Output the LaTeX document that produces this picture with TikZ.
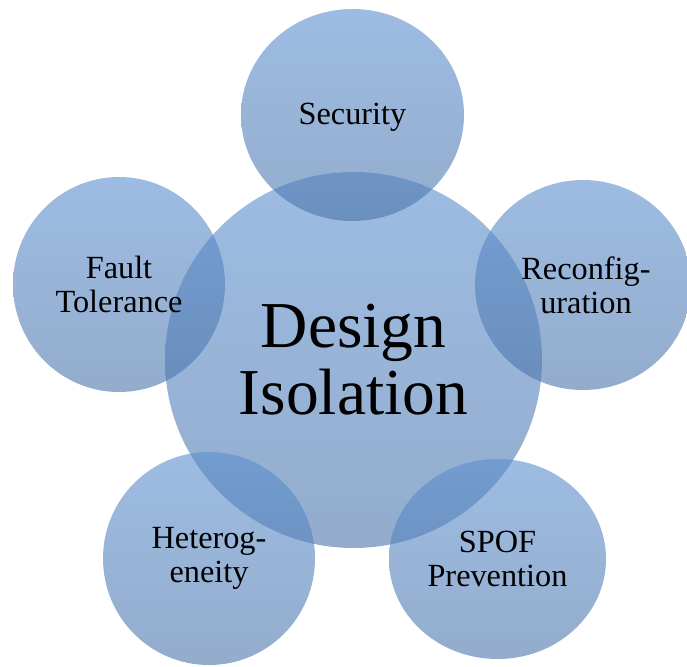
\documentclass[tikz,border=0pt]{standalone}
\usepackage{fontspec}
\setmainfont{Liberation Serif}
\usetikzlibrary{shapes.geometric}
\definecolor{bubtop}{RGB}{92,143,207}
\definecolor{bubbot}{RGB}{75,117,170}
\begin{document}
\begin{tikzpicture}[x=1pt,y=-1pt,
  bubble/.style={ellipse, inner sep=0pt, draw=none, top color=bubtop, bottom color=bubbot, fill opacity=0.6},
  lbl/.style={align=center, text=black, inner sep=0pt, font=\fontsize{32.3}{34}\selectfont},
  biglbl/.style={align=center, text=black, inner sep=0pt, font=\fontsize{65.5}{67}\selectfont}]
\useasboundingbox (0,0) rectangle (687,666);
\clip (0,0) rectangle (687,666);
% bubbles
\node[bubble, minimum width=377pt, minimum height=376pt] (core) at (353.5,360) {};
\node[bubble, minimum width=223pt, minimum height=212pt] (sec) at (352.5,115) {};
\node[bubble, minimum width=212pt, minimum height=215pt] (ft) at (119,284.5) {};
\node[bubble, minimum width=216pt, minimum height=210pt] (rec) at (583,285) {};
\node[bubble, minimum width=212pt, minimum height=213pt] (het) at (209,558.5) {};
\node[bubble, minimum width=217pt, minimum height=200pt] (spof) at (497.5,559) {};
% labels
\node[biglbl] (coret) at (core) {Design\\Isolation};
\node[lbl] (sect) at ([yshift=-2pt]sec.center) {Security};
\node[lbl] (ftt) at (ft) {Fault\\Tolerance};
\node[lbl] (rect) at ([xshift=3pt]rec.center) {Reconfig-\\uration};
\node[lbl] (hett) at (het) {Heterog-\\eneity};
\node[lbl] (spoft) at (spof) {SPOF\\Prevention};
\end{tikzpicture}
\end{document}
